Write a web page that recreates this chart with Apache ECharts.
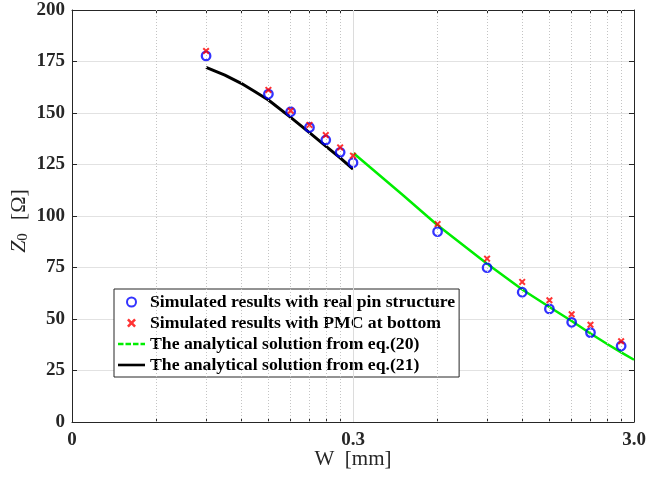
<!DOCTYPE html>
<html>
<head>
<meta charset="utf-8">
<script src="https://cdn.jsdelivr.net/npm/echarts@6/dist/echarts.min.js"></script>
<style>
html,body{margin:0;padding:0;background:#fff;}
#chart{width:668px;height:483px;}
</style>
</head>
<body>
<div id="chart"></div>
<script>
// ---- data ----
const wSim = [0.09, 0.15, 0.18, 0.21, 0.24, 0.27, 0.3, 0.6, 0.9, 1.2, 1.5, 1.8, 2.1, 2.7];
const zRealPin = [177.7, 159.2, 150.6, 143.0, 136.9, 130.9, 125.9, 92.4, 74.9, 63.0, 54.9, 48.4, 43.4, 36.9];
const zPmc = [180.1, 161.2, 151.1, 144.2, 139.3, 133.3, 129.3, 96.1, 79.3, 68.0, 59.1, 52.3, 47.2, 39.2];

const wEq20 = [0.3, 0.45, 0.6, 0.9, 1.2, 1.5, 1.8, 2.1, 2.4, 2.7, 3.0];
const zEq20 = [130.7, 110.3, 95.5, 76.8, 64.3, 55.8, 49.0, 43.0, 38.0, 33.8, 30.2];

const wEq21 = [0.09, 0.105, 0.12, 0.135, 0.15, 0.18, 0.21, 0.24, 0.27, 0.3];
const zEq21 = [172.2, 168.4, 164.4, 160.2, 156.3, 147.9, 140.5, 133.9, 128.2, 122.7];

const xMajorTicks = [0.03, 0.3, 3];
const xMajorLabels = ['0', '0.3', '3.0'];
const xMinorTicks = [0.06, 0.09, 0.12, 0.15, 0.18, 0.21, 0.24, 0.27, 0.6, 0.9, 1.2, 1.5, 1.8, 2.1, 2.4, 2.7];

const seriesNames = [
  'Simulated results with real pin structure',
  'Simulated results with PMC at bottom',
  'The analytical solution from eq.(20)',
  'The analytical solution from eq.(21)'
];

function pairs(xs, ys) { return xs.map((x, i) => [x, ys[i]]); }

const FONT = '"Liberation Serif", "Times New Roman", serif';
const AX = '#262626';
const allXTicks = xMajorTicks.concat(xMinorTicks);

function xLabel(v) {
  for (let i = 0; i < xMajorTicks.length; i++) {
    if (Math.abs(v - xMajorTicks[i]) < 1e-6 * xMajorTicks[i] + 1e-9) return xMajorLabels[i];
  }
  return '';
}

const crossPath = 'path://M0,2 L2,0 L5,3 L8,0 L10,2 L7,5 L10,8 L8,10 L5,7 L2,10 L0,8 L3,5 Z';
const dashIcon = 'path://M0,0h5.5v2.4h-5.5z M7.5,0h5.5v2.4h-5.5z M15,0h5.5v2.4h-5.5z M22.5,0h4.5v2.4h-4.5z';
const solidIcon = 'path://M0,0h27v2.6h-27z';

const chart = echarts.init(document.getElementById('chart'), null, {renderer: 'canvas'});
chart.setOption({
  backgroundColor: '#fff',
  animation: false,
  grid: {left: 72, top: 10, right: 34, bottom: 61, containLabel: false, outerBoundsMode: 'none'},
  legend: {
    orient: 'vertical',
    left: 114, top: 289,
    backgroundColor: '#fff',
    borderColor: AX, borderWidth: 1, borderRadius: 0,
    padding: [4, 4, 3, 4],
    itemWidth: 27, itemHeight: 9, itemGap: 3,
    textStyle: {fontFamily: FONT, fontWeight: 'bold', fontSize: 17.7, lineHeight: 18, color: '#000'},
    data: [
      {name: seriesNames[0]},
      {name: seriesNames[1]},
      {name: seriesNames[2], icon: dashIcon, itemStyle: {color: '#00ee00', borderWidth: 0}},
      {name: seriesNames[3], icon: solidIcon, itemStyle: {color: '#000', borderWidth: 0}}
    ]
  },
  xAxis: [{
    type: 'log', logBase: 10, min: 0.03, max: 3,
    position: 'bottom',
    name: 'W  [mm]', nameLocation: 'middle', nameGap: 27, nameMoveOverlap: false,
    nameTextStyle: {fontFamily: FONT, fontSize: 21, color: AX},
    axisLine: {show: true, onZero: false, lineStyle: {color: AX, width: 1}},
    axisTick: {show: true, inside: true, length: 4, customValues: allXTicks, lineStyle: {color: AX}},
    axisLabel: {show: true, customValues: xMajorTicks, formatter: xLabel, margin: 9,
      fontFamily: FONT, fontWeight: 'bold', fontSize: 19, color: AX},
    splitLine: {show: false}, minorTick: {show: false}, minorSplitLine: {show: false}
  }, {
    type: 'log', logBase: 10, min: 0.03, max: 3,
    position: 'top',
    axisLine: {show: true, onZero: false, lineStyle: {color: AX, width: 1}},
    axisTick: {show: true, inside: true, length: 4, customValues: allXTicks, lineStyle: {color: AX}},
    axisLabel: {show: false},
    splitLine: {show: false}
  }],
  yAxis: [{
    type: 'value', min: 0, max: 200, interval: 25,
    position: 'left',
    name: '{i|Z}{s|0}  [Ω]{e| }', nameLocation: 'middle', nameGap: 41, nameRotate: 90, nameMoveOverlap: false,
    nameTextStyle: {fontFamily: FONT, fontSize: 22, color: AX,
      rich: {
        i: {fontFamily: FONT, fontStyle: 'italic', fontSize: 22, color: AX},
        s: {fontFamily: FONT, fontSize: 15, color: AX, padding: [9, 2, 0, 0]},
        e: {fontFamily: FONT, fontSize: 22, width: 10}
      }},
    axisLine: {show: true, onZero: false, lineStyle: {color: AX, width: 1}},
    axisTick: {show: true, inside: true, length: 5, lineStyle: {color: AX}},
    axisLabel: {margin: 7, fontFamily: FONT, fontWeight: 'bold', fontSize: 19, color: AX},
    splitLine: {show: true, lineStyle: {color: '#e2e2e2', width: 1}}
  }, {
    type: 'value', min: 0, max: 200, interval: 25,
    position: 'right',
    axisLine: {show: true, onZero: false, lineStyle: {color: AX, width: 1}},
    axisTick: {show: true, inside: true, length: 5, lineStyle: {color: AX}},
    axisLabel: {show: false},
    splitLine: {show: false}
  }],
  series: [
    {
      name: 'grid-x', type: 'line', data: [], silent: true, z: 0,
      markLine: {
        silent: true, symbol: 'none', label: {show: false}, animation: false,
        data: xMinorTicks.map(v => ({xAxis: v, lineStyle: {color: '#c4c4c4', width: 1, type: [1, 2]}}))
          .concat([{xAxis: xMajorTicks[1], lineStyle: {color: '#dcdcdc', width: 1, type: 'solid'}}])
      }
    },
    {
      name: seriesNames[3], type: 'line', data: pairs(wEq21, zEq21),
      symbol: 'none', showSymbol: false, smooth: false, z: 3,
      lineStyle: {color: '#000', width: 3, join: 'round'}, itemStyle: {color: '#000'}
    },
    {
      name: seriesNames[2], type: 'line', data: pairs(wEq20, zEq20),
      symbol: 'none', showSymbol: false, smooth: false, z: 3,
      lineStyle: {color: '#00ee00', width: 2.5, join: 'round'}, itemStyle: {color: '#00ee00'}
    },
    {
      name: seriesNames[0], type: 'scatter', data: pairs(wSim, zRealPin),
      symbol: 'circle', symbolSize: 8.5, z: 4,
      itemStyle: {color: 'rgba(255,255,255,0)', borderColor: '#0000ff', borderWidth: 2.3}
    },
    {
      name: seriesNames[1], type: 'scatter', data: pairs(wSim, zPmc),
      symbol: crossPath, symbolSize: 7, z: 5,
      itemStyle: {color: '#ff0000'}
    }
  ]
});
</script>
</body>
</html>
